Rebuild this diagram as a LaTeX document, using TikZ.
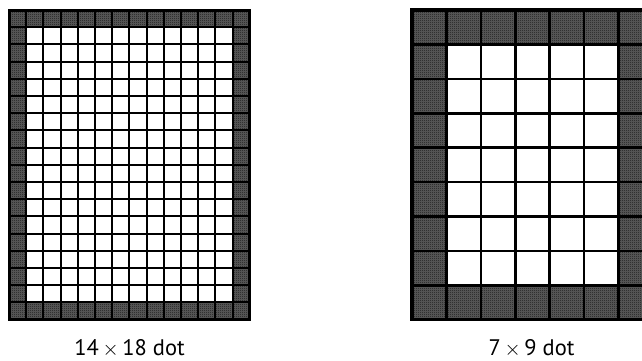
\documentclass[tikz,border=0pt]{standalone}
\usepackage{fontspec}
\setmainfont{PT Sans}
\usetikzlibrary{patterns.meta}

\tikzdeclarepattern{
  name=dither, type=uncolored,
  bounding box={(0,0) and (2pt,2pt)}, tile size={(2pt,2pt)},
  code={\fill (0,0) rectangle (1pt,1pt); \fill (1pt,1pt) rectangle (2pt,2pt);}
}

\begin{document}
\begin{tikzpicture}[x=1pt, y=-1pt,
    darkfill/.style={fill=black!62},
    dotfill/.style={pattern=dither, pattern color=black},
    gridline/.style={line width=2pt},
    outerframe/.style={line width=3pt},
    caption/.style={font=\fontsize{22.5}{27}\selectfont, anchor=base}]
    \useasboundingbox (0,0) rectangle (642,360);
    % 14 x 18 dot
    \begin{scope}[shift={(9,10)}]
        \fill[darkfill] (0,0) rectangle (240.8,309.6);
        \fill[dotfill] (0,0) rectangle (240.8,309.6);
        \fill[white] (17.2,17.2) rectangle (223.6,292.4);
        \foreach \i in {1,...,13}
            \draw[gridline] (\i*17.2,0) -- (\i*17.2,309.6);
        \foreach \j in {1,...,17}
            \draw[gridline] (0,\j*17.2) -- (240.8,\j*17.2);
        \draw[outerframe] (0,0) rectangle (240.8,309.6);
    \end{scope}
    % 7 x 9 dot
    \begin{scope}[shift={(412,10)}]
        \fill[darkfill] (0,0) rectangle (240.8,309.6);
        \fill[dotfill] (0,0) rectangle (240.8,309.6);
        \fill[white] (34.4,34.4) rectangle (206.4,275.2);
        \foreach \i in {1,...,6}
            \draw[gridline, line width=2.6pt] (\i*34.4,0) -- (\i*34.4,309.6);
        \foreach \j in {1,...,8}
            \draw[gridline, line width=2.6pt] (0,\j*34.4) -- (240.8,\j*34.4);
        \draw[outerframe, line width=3.5pt] (0,0) rectangle (240.8,309.6);
    \end{scope}
    \node[caption] (finelabel) at (129.5,355) {14\,$\times$\,18 dot};
    \node[caption] (coarselabel) at (531.5,355) {7\,$\times$\,9 dot};
\end{tikzpicture}
\end{document}
